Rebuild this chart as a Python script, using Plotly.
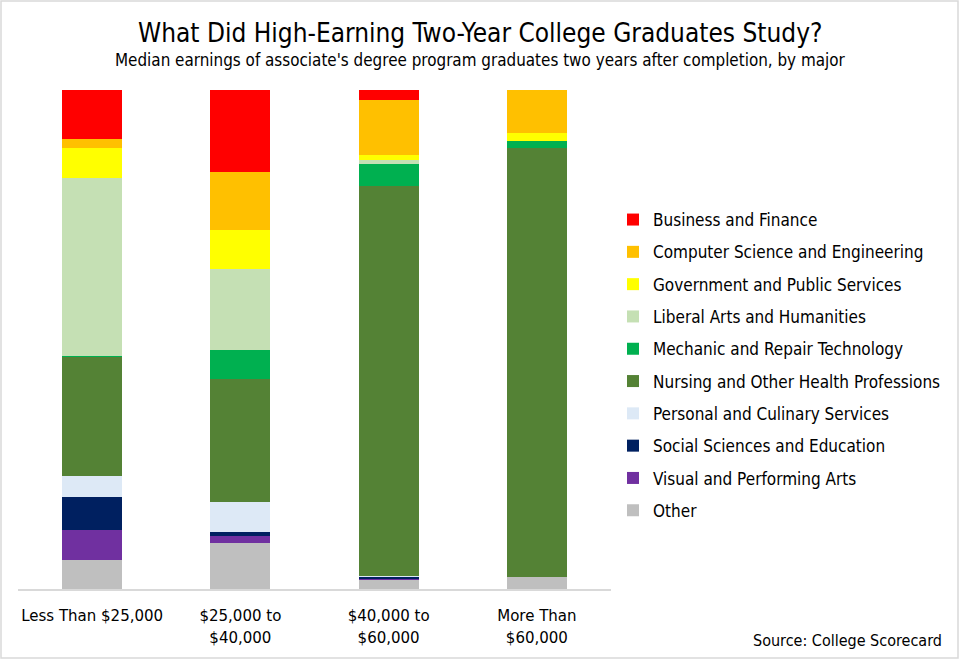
import plotly.graph_objects as go

categories = ["Less Than $25,000", "$25,000 to<br>$40,000", "$40,000 to<br>$60,000", "More Than<br>$60,000"]

# values in percent of graduates, bottom to top
other = [5.8, 9.2, 2.0, 2.5]
visual_arts = [6.1, 1.5, 0.2, 0.0]
social_sci = [6.5, 0.8, 0.3, 0.0]
personal_culinary = [4.3, 6.0, 0.2, 0.0]
nursing = [23.8, 24.6, 78.1, 85.9]
mechanic = [0.2, 5.8, 4.3, 1.4]
liberal_arts = [35.6, 16.3, 0.8, 0.0]
government = [6.1, 7.8, 1.0, 1.5]
computer_sci = [1.7, 11.6, 11.0, 8.7]
business = [9.9, 16.5, 2.1, 0.0]

series = [
    ("Other", other, "#bfbfbf"),
    ("Visual and Performing Arts", visual_arts, "#7030a0"),
    ("Social Sciences and Education", social_sci, "#002060"),
    ("Personal and Culinary Services", personal_culinary, "#dde9f6"),
    ("Nursing and Other Health Professions", nursing, "#548235"),
    ("Mechanic and Repair Technology", mechanic, "#00b050"),
    ("Liberal Arts and Humanities", liberal_arts, "#c5e0b4"),
    ("Government and Public Services", government, "#ffff00"),
    ("Computer Science and Engineering", computer_sci, "#ffc000"),
    ("Business and Finance", business, "#ff0000"),
]

FONT = "Liberation Sans Narrow, Arial Narrow, DejaVu Sans Condensed, sans-serif"

fig = go.Figure()
n = len(series)
for i, (name, vals, color) in enumerate(series):
    fig.add_trace(go.Bar(
        x=categories, y=vals, name=name, legendgroup=name, legendrank=n - i,
        marker=dict(color=color, line=dict(width=0)),
        width=0.405,
    ))

W, H = 959, 659
L, R, T, B = 18, 348, 90, 70
pw, ph = W - L - R, H - T - B

fig.update_layout(
    width=W, height=H,
    barmode="stack",
    plot_bgcolor="white", paper_bgcolor="white",
    margin=dict(l=L, r=R, t=T, b=B, pad=0),
    font=dict(family=FONT, size=16, color="#000000"),
    xaxis=dict(showline=True, linecolor="#d9d9d9", linewidth=1.5, ticks="",
               tickfont=dict(size=16.7, color="#000000"), showgrid=False,
               ticklabelstandoff=10),
    yaxis=dict(range=[0, 100], visible=False, showgrid=False),
    legend=dict(x=(613 - L) / pw, y=(589 - 365) / ph, xanchor="left", yanchor="middle",
                traceorder="grouped", tracegroupgap=7.2,
                font=dict(size=17, color="#000000"), itemwidth=30),
    showlegend=True,
    annotations=[
        dict(text="What Did High-Earning Two-Year College Graduates Study?", xref="paper", yref="paper",
             x=(480 - L) / pw, y=1 + (90 - 33) / ph, xanchor="center", yanchor="middle",
             showarrow=False, font=dict(size=26, family=FONT, color="#000000")),
        dict(text="Median earnings of associate's degree program graduates two years after completion, by major",
             xref="paper", yref="paper", x=(480 - L) / pw, y=1 + (90 - 60) / ph,
             xanchor="center", yanchor="middle", showarrow=False,
             font=dict(size=16.9, family=FONT, color="#000000")),
        dict(text="Source: College Scorecard", xref="paper", yref="paper",
             x=(944 - L) / pw, y=-(640 - 589) / ph, xanchor="right", yanchor="middle",
             showarrow=False, font=dict(size=16, family=FONT, color="#000000")),
    ],
    shapes=[
        dict(type="rect", xref="paper", yref="paper",
             x0=-(L - 1) / pw, x1=1 + (R - 1) / pw, y0=-(B - 1) / ph, y1=1 + (T - 1) / ph,
             line=dict(color="#d9d9d9", width=1.5), fillcolor="rgba(0,0,0,0)"),
    ],
)

fig.write_html("out.html")
